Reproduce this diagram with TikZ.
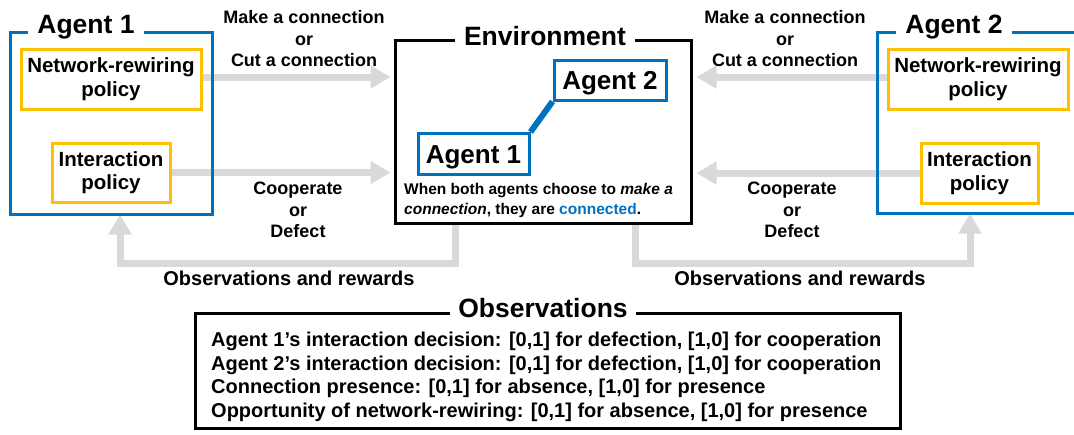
\documentclass[tikz,border=0pt]{standalone}
\usepackage{fontspec}
\setmainfont{Liberation Sans}
\usetikzlibrary{arrows.meta,positioning,calc}
\definecolor{ablue}{HTML}{0070C0}
\definecolor{ayellow}{HTML}{FFC000}
\definecolor{agray}{HTML}{D9D9D9}
\begin{document}
\begin{tikzpicture}[x=1pt,y=-1pt,
  outerbox/.style={draw=ablue,line width=3pt,inner sep=0pt},
  policybox/.style={draw=ayellow,line width=3pt,inner sep=0pt,align=center,
    font=\fontsize{20.5}{23.5}\selectfont\bfseries},
  envbox/.style={draw=black,line width=3pt,inner sep=0pt},
  innerag/.style={draw=ablue,line width=3pt,inner sep=0pt,fill=white,
    text height=18.7pt,text depth=0pt,
    font=\fontsize{26}{30}\selectfont\bfseries},
  titlelab/.style={fill=white,inner xsep=9pt,inner ysep=2pt,
    text height=19pt,text depth=0pt,
    font=\fontsize{26.5}{30}\selectfont\bfseries},
  actlab/.style={align=center,inner sep=0pt,font=\fontsize{18}{21.5}\selectfont\bfseries},
  obslab/.style={inner sep=0pt,font=\fontsize{20}{24}\selectfont\bfseries},
  grayarrow/.style={draw=agray,line width=7pt,-{Triangle[width=22pt,length=20pt]}},
]
\useasboundingbox (0,0) rectangle (1074,434);
\clip (0,0) rectangle (1074,434);

% outer agent boxes and policies
\node[outerbox,minimum width=202pt,minimum height=182pt] (ag1) at (111,123) {};
\node[outerbox,minimum width=213pt,minimum height=181pt] (ag2) at (983.5,122.5) {};
\node[policybox,minimum width=180pt,minimum height=60pt] (nr1) at (111,79) {Network-rewiring\\policy};
\node[policybox,minimum width=118pt,minimum height=59pt] (ip1) at (111,172.5) {Interaction\\policy};
\node[policybox,minimum width=180pt,minimum height=60pt] (nr2) at (978,79) {Network-rewiring\\policy};
\node[policybox,minimum width=117pt,minimum height=60pt] (ip2) at (979.5,173) {Interaction\\policy};

% environment
\node[envbox,minimum width=296pt,minimum height=183pt] (env) at (543,131.5) {};

% gray arrows
\draw[grayarrow,shorten >=3pt] (nr1.east |- 0,77) -- (env.west |- 0,77);
\draw[grayarrow,shorten >=3pt] (ip1.east) -- (ip1.east -| env.west);
\draw[grayarrow,shorten >=4pt] (nr2.west |- 0,77) -- (env.east |- 0,77);
\draw[grayarrow,shorten >=4pt] (ip2.west) -- (ip2.west -| env.east);
\coordinate (fbL) at ([xshift=62pt]env.south west);
\coordinate (fbR) at ([xshift=-57pt]env.south east);
\draw[grayarrow,shorten >=-1pt] (fbL) -- (fbL |- 0,263) -| ([xshift=9pt]ag1.south);
\draw[grayarrow,shorten >=-1pt] (fbR) -- (fbR |- 0,263) -| ([xshift=-13.5pt]ag2.south);

% redraw box borders on top
\node[envbox,minimum width=296pt,minimum height=183pt] at (env) {};
\node[outerbox,minimum width=202pt,minimum height=182pt] at (ag1) {};
\node[outerbox,minimum width=213pt,minimum height=181pt] at (ag2) {};

% titles
\node[titlelab] (t1) at (86,24) {Agent 1};
\node[titlelab] (t2) at (954,24) {Agent 2};
\node[titlelab] (tenv) at (545,36) {Environment};

% inside environment
\node[innerag,minimum width=112pt,minimum height=40pt] (ea2) at (610,80) {Agent 2};
\node[innerag,minimum width=111pt,minimum height=41pt] (ea1) at (473.5,154) {Agent 1};
\draw[ablue,line width=6pt] (ea1.north east) -- (ea2.south west);
\node[anchor=west,align=left,inner sep=0pt,font=\fontsize{15.5}{20}\selectfont\bfseries] (cap) at (404,200.5)
  {When both agents choose to \textit{make a}\\\textit{connection}, they are \textcolor{ablue}{connected}.};

% action labels
\node[actlab] (mk1) at (304,39) {Make a connection\\or\\Cut a connection};
\node[actlab] (mk2) at (785,39) {Make a connection\\or\\Cut a connection};
\node[actlab] (cd1) at (298,210) {Cooperate\\or\\Defect};
\node[actlab] (cd2) at (792,210) {Cooperate\\or\\Defect};
\node[obslab] (or1) at (289,278) {Observations and rewards};
\node[obslab] (or2) at (800,278) {Observations and rewards};

% observations box
\node[envbox,minimum width=705pt,minimum height=115pt] (obs) at (547.5,370.5) {};
\node[titlelab,inner xsep=8pt] (tobs) at (543,307.5) {Observations};
\node[anchor=north west,align=left,inner sep=0pt,font=\fontsize{20}{23.5}\selectfont\bfseries] (obstext) at (211,332)
  {Agent 1’s interaction decision: [0,1] for defection, [1,0] for cooperation\\
   Agent 2’s interaction decision: [0,1] for defection, [1,0] for cooperation\\
   Connection presence: [0,1] for absence, [1,0] for presence\\
   Opportunity of network-rewiring: [0,1] for absence, [1,0] for presence};
\end{tikzpicture}
\end{document}
